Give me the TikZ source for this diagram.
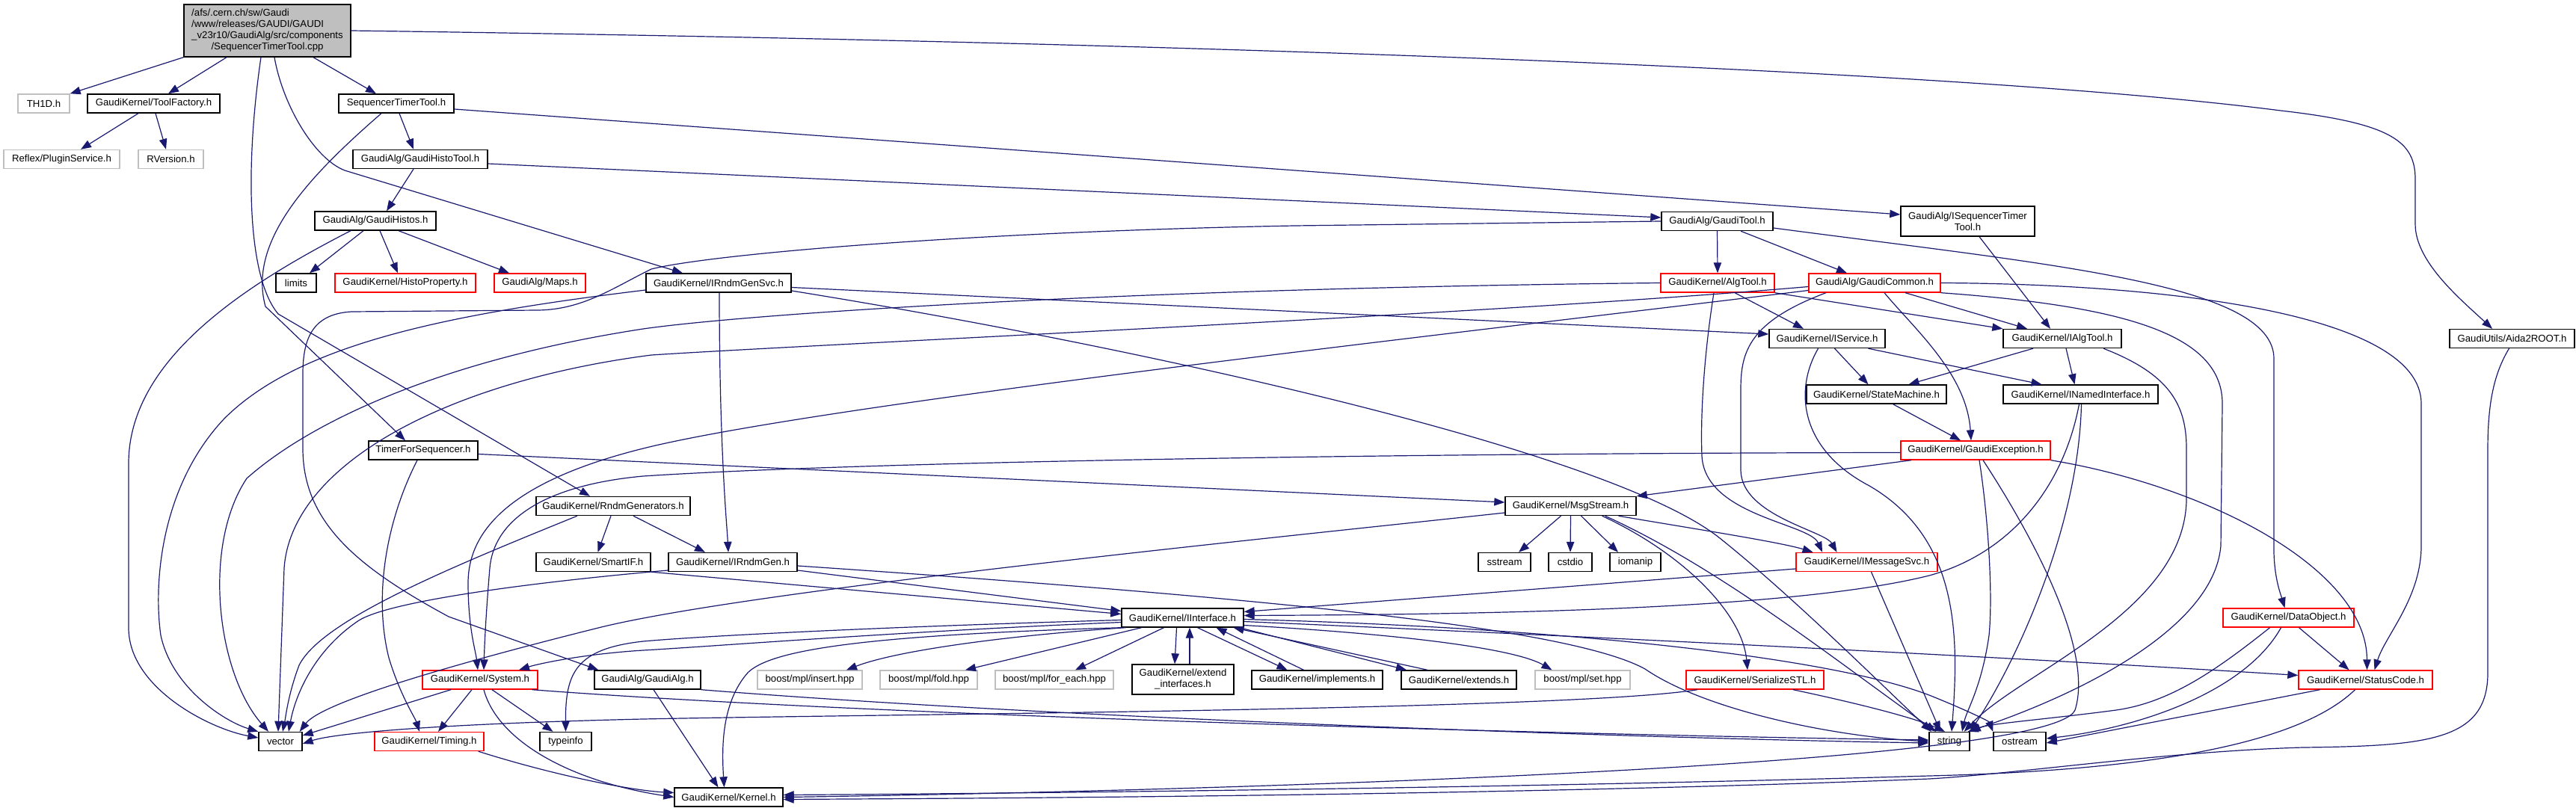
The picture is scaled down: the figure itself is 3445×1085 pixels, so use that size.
\documentclass[tikz,border=0pt]{standalone}
\usepackage{fontspec}
\setmainfont{Liberation Sans}
\usetikzlibrary{arrows.meta}
\definecolor{edgec}{RGB}{25,25,112}
\definecolor{grayb}{RGB}{191,191,191}
\definecolor{redb}{RGB}{255,0,0}
\begin{document}
\begin{tikzpicture}[x=0.5pt,y=-0.5pt,
  nb/.style={draw=black, fill=white, line width=0.7pt, inner sep=0pt, minimum height=12.5pt, align=center, font=\fontsize{6.6pt}{7.5pt}\selectfont},
  ng/.style={nb, draw=grayb},
  nr/.style={nb, draw=redb},
  e/.style={draw=edgec, line width=0.6pt, line join=round, -{Triangle[length=7pt,width=5.2pt]}, fill=none}]
\fill[white] (0,0) rectangle (3445,1085);
% nodes
\node[nb, fill=grayb, minimum width=111.5pt, minimum height=35pt] (main) at (357.5,41) {\begin{tabular}{@{}l@{}}/afs/.cern.ch/sw/Gaudi\\/www/releases/GAUDI/GAUDI\\\_v23r10/GaudiAlg/src/components\\\multicolumn{1}{@{}c@{}}{/SequencerTimerTool.cpp}\end{tabular}};
\node[ng, minimum width=34.5pt] (th1d) at (58.5,138.5) {TH1D.h};
\node[nb, minimum width=88.5pt] (toolfac) at (205.5,138.5) {GaudiKernel/ToolFactory.h};
\node[nb, minimum width=77pt] (stth) at (530,138.5) {SequencerTimerTool.h};
\node[ng, minimum width=77.5pt] (plugin) at (82.5,213) {Reflex/PluginService.h};
\node[ng, minimum width=43.5pt] (rversion) at (228.5,213) {RVersion.h};
\node[nb, minimum width=90pt] (histotool) at (562,213) {GaudiAlg/GaudiHistoTool.h};
\node[nb, minimum width=81pt] (histos) at (502,295.5) {GaudiAlg/GaudiHistos.h};
\node[nb, minimum width=74.5pt] (gtool) at (2296.5,296) {GaudiAlg/GaudiTool.h};
\node[nb, minimum width=89.5pt, minimum height=20pt] (istt) at (2631.5,296) {GaudiAlg/ISequencerTimer\\Tool.h};
\node[nb, minimum width=27pt] (limits) at (396,378.5) {limits};
\node[nr, minimum width=94pt] (histoprop) at (542,378.5) {GaudiKernel/HistoProperty.h};
\node[nr, minimum width=61pt] (maps) at (722,378.5) {GaudiAlg/Maps.h};
\node[nb, minimum width=97pt] (rgsvc) at (961,378.5) {GaudiKernel/IRndmGenSvc.h};
\node[nr, minimum width=76pt] (algtool) at (2297,378.5) {GaudiKernel/AlgTool.h};
\node[nr, minimum width=88pt] (gcommon) at (2507,378.5) {GaudiAlg/GaudiCommon.h};
\node[nb, minimum width=77.5pt] (iservice) at (2443.5,453) {GaudiKernel/IService.h};
\node[nb, minimum width=79pt] (ialgtool) at (2758,453) {GaudiKernel/IAlgTool.h};
\node[nb, minimum width=83.5pt] (aida) at (3359.5,453) {GaudiUtils/Aida2ROOT.h};
\node[nb, minimum width=93.5pt] (statem) at (2509.5,527.5) {GaudiKernel/StateMachine.h};
\node[nb, minimum width=103.5pt] (inamed) at (2782.5,527.5) {GaudiKernel/INamedInterface.h};
\node[nb, minimum width=73pt] (timerfs) at (566,602.5) {TimerForSequencer.h};
\node[nr, minimum width=100pt] (gexc) at (2642,602.5) {GaudiKernel/GaudiException.h};
\node[nb, minimum width=103pt] (rndmgens) at (820,677) {GaudiKernel/RndmGenerators.h};
\node[nb, minimum width=87.5pt] (msgstream) at (2100.5,677) {GaudiKernel/MsgStream.h};
\node[nb, minimum width=76.5pt] (smartif) at (793.5,752) {GaudiKernel/SmartIF.h};
\node[nb, minimum width=86pt] (irndmgen) at (980,752) {GaudiKernel/IRndmGen.h};
\node[nb, minimum width=35pt] (sstream) at (2012,752) {sstream};
\node[nb, minimum width=29pt] (cstdio) at (2100,752) {cstdio};
\node[nb, minimum width=34pt] (iomanip) at (2187,752) {iomanip};
\node[nr, minimum width=94.5pt] (imsgsvc) at (2496.5,752) {GaudiKernel/IMessageSvc.h};
\node[nb, minimum width=81.5pt] (iinterface) at (1581.5,826.5) {GaudiKernel/IInterface.h};
\node[nr, minimum width=87.5pt] (dataobj) at (3060.5,826.5) {GaudiKernel/DataObject.h};
\node[nr, minimum width=77pt] (system) at (642,909.5) {GaudiKernel/System.h};
\node[nb, minimum width=71pt] (gaudialg) at (866,909.5) {GaudiAlg/GaudiAlg.h};
\node[ng, minimum width=70pt] (insert) at (1083,909.5) {boost/mpl/insert.hpp};
\node[ng, minimum width=65pt] (fold) at (1242,909.5) {boost/mpl/fold.hpp};
\node[ng, minimum width=79pt] (foreach) at (1410,909.5) {boost/mpl/for\_each.hpp};
\node[nb, minimum width=68pt, minimum height=20pt] (extint) at (1582,909) {GaudiKernel/extend\\\_interfaces.h};
\node[nb, minimum width=87.5pt] (implements) at (1761.5,909.5) {GaudiKernel/implements.h};
\node[nb, minimum width=77pt] (extends) at (1951,909.5) {GaudiKernel/extends.h};
\node[ng, minimum width=63.5pt] (setmpl) at (2116.5,909.5) {boost/mpl/set.hpp};
\node[nr, minimum width=92pt] (serial) at (2347,909.5) {GaudiKernel/SerializeSTL.h};
\node[nr, minimum width=89.5pt] (statuscode) at (3163.5,909.5) {GaudiKernel/StatusCode.h};
\node[nb, minimum width=29pt] (vector) at (375,992) {vector};
\node[nr, minimum width=73pt] (timing) at (574,992) {GaudiKernel/Timing.h};
\node[nb, minimum width=34.5pt] (typeinfo) at (756.5,992) {typeinfo};
\node[nb, minimum width=27pt] (string) at (2607,992) {string};
\node[nb, minimum width=35pt] (ostream) at (2701,992) {ostream};
\node[nb, minimum width=72.5pt] (kernel) at (974.5,1066.5) {GaudiKernel/Kernel.h};
% edges
\draw[e] (main.south west) -- (th1d.north east);
\draw[e] ([xshift=-27.25pt]main.south) -- ([xshift=9.75pt]toolfac.north);
\draw[e] ([xshift=30.75pt]main.south) -- ([xshift=-13.5pt]stth.north);
\draw[e] ([xshift=4.75pt]main.south) .. controls (378,140) and (420,212) .. (461,228) -- ([xshift=-24pt]rgsvc.north);
\draw[e] ([xshift=-4.25pt]main.south) .. controls (328,220) and (330,370) .. (372,420) -- ([xshift=-15.5pt]rndmgens.north);
\draw[e] (main.east) .. controls (1500,55) and (2600,90) .. (3050,148) .. controls (3200,165) and (3230,190) .. (3230,240) -- (3230,300) .. controls (3230,350) and (3290,400) .. ([xshift=-13.25pt]aida.north);
\draw[e] ([xshift=-10.25pt]toolfac.south) -- ([xshift=12.75pt]plugin.north);
\draw[e] ([xshift=1.25pt]toolfac.south) -- ([xshift=-3.25pt]rversion.north);
\draw[e] ([xshift=2pt]stth.south) -- ([xshift=-4.5pt]histotool.north);
\draw[e] ([yshift=-3.75pt]stth.east) -- ([yshift=4.5pt]istt.west);
\draw[e] ([xshift=-10pt]stth.south) .. controls (420,230) and (330,320) .. (355,410) -- ([xshift=-12pt]timerfs.north);
\draw[e] ([xshift=-4.5pt]histotool.south) -- ([xshift=7.5pt]histos.north);
\draw[e] ([yshift=-3pt]histotool.east) -- ([yshift=2.5pt]gtool.west);
\draw[e] ([xshift=-16.5pt]histos.south) .. controls (330,380) and (172,480) .. (172,620) -- (172,840) .. controls (172,920) and (280,975) .. ([yshift=2.5pt]vector.west);
\draw[e] ([xshift=-8pt]histos.south) -- ([xshift=9pt]limits.north);
\draw[e] ([xshift=3pt]histos.south) -- ([xshift=-5pt]histoprop.north);
\draw[e] ([xshift=15.5pt]histos.south) -- ([xshift=-20.5pt]maps.north);
\draw[e] (gtool.south) -- (algtool.north);
\draw[e] ([xshift=15.75pt]gtool.south) -- ([xshift=-18.5pt]gcommon.north);
\draw[e] ([yshift=-4.5pt]gtool.east) .. controls (2750,355) and (3041,380) .. (3041,480) -- (3041,740) .. controls (3042,775) and (3050,795) .. ([xshift=-2.5pt]dataobj.north);
\draw[e] (gtool.west) -- (1731,302) .. controls (1300,310) and (950,340) .. (871,360) .. controls (820,385) and (780,414) .. (720,415) -- (470,417) .. controls (420,420) and (405,450) .. (405,500) -- (405,600) .. controls (405,700) and (480,760) .. (600,825) -- ([xshift=3pt]gaudialg.north west);
\draw[e] ([xshift=7.75pt]istt.south) -- ([xshift=-8pt]ialgtool.north);
\draw[e] ([xshift=0.5pt]rgsvc.south) .. controls (962,600) and (972,700) .. ([xshift=-3pt]irndmgen.north);
\draw[e] ([yshift=-3pt]rgsvc.east) -- ([yshift=3pt]iservice.west);
\draw[e] ([yshift=-5.25pt]rgsvc.east) .. controls (1500,460) and (2150,600) .. (2300,720) .. controls (2400,800) and (2520,920) .. ([xshift=-12pt]string.north);
\draw[e] ([yshift=-4.75pt]rgsvc.west) .. controls (600,420) and (400,460) .. (300,560) .. controls (215,650) and (205,780) .. (215,850) .. controls (230,920) and (300,965) .. (vector.north west);
\draw[e] ([xshift=11.5pt]algtool.south) -- ([xshift=-15.75pt]iservice.north);
\draw[e] (algtool.south east) -- (ialgtool.north west);
\draw[e] ([xshift=-2.5pt]algtool.south) .. controls (2278,480) and (2274,560) .. (2276,610) .. controls (2280,690) and (2420,700) .. ([xshift=-29.75pt]imsgsvc.north);
\draw[e] (algtool.west) .. controls (1500,386) and (1000,420) .. (860,440) .. controls (600,480) and (420,560) .. (330,640) .. controls (270,730) and (290,900) .. ([xshift=-8pt]vector.north);
\draw[e] ([xshift=20.5pt]gcommon.south) -- ([xshift=-23.5pt]ialgtool.north);
\draw[e] ([xshift=6.5pt]gcommon.south) .. controls (2560,440) and (2630,500) .. ([xshift=-3pt]gexc.north);
\draw[e] (gcommon.east) .. controls (2900,380) and (3238,420) .. (3238,540) -- (3238,730) .. controls (3238,800) and (3190,850) .. ([xshift=6pt]statuscode.north);
\draw[e] (gcommon.south east) .. controls (2850,410) and (2972,450) .. (2972,540) -- (2970,730) .. controls (2960,850) and (2750,940) .. ([xshift=-1.5pt]string.north east);
\draw[e] ([xshift=-32.5pt]gcommon.south) .. controls (2340,430) and (2328,470) .. (2328,520) -- (2328,630) .. controls (2330,690) and (2440,710) .. ([xshift=-20pt]imsgsvc.north);
\draw[e] ([yshift=-5pt]gcommon.west) .. controls (2000,440) and (1100,540) .. (860,600) .. controls (700,640) and (626,700) .. (626,780) .. controls (626,840) and (636,870) .. ([xshift=-1.5pt]system.north);
\draw[e] ([yshift=-2.5pt]gcommon.west) .. controls (2000,420) and (1100,460) .. (871,475) .. controls (600,510) and (390,620) .. (380,760) -- ([xshift=-1.5pt]vector.north);
\draw[e] ([xshift=-24pt]rndmgens.south) .. controls (600,760) and (430,830) .. (400,890) .. controls (385,930) and (382,960) .. ([xshift=1.5pt]vector.north);
\draw[e] ([xshift=13.5pt]rndmgens.south) -- ([xshift=-18.5pt]irndmgen.north);
\draw[e] ([xshift=-1.5pt]rndmgens.south) -- ([xshift=3pt]smartif.north);
\draw[e] (smartif.south east) -- ([yshift=2.5pt]iinterface.west);
\draw[e] ([yshift=-5.5pt]irndmgen.east) -- ([yshift=4.5pt]iinterface.west);
\draw[e] ([yshift=-2.5pt]irndmgen.east) .. controls (1700,800) and (2100,840) .. (2200,895) .. controls (2280,950) and (2450,985) .. (string.west);
\draw[e] ([yshift=-5.5pt]irndmgen.west) .. controls (700,780) and (520,805) .. (480,830) .. controls (420,870) and (395,930) .. ([xshift=5.5pt]vector.north);
\draw[e] ([yshift=-2.5pt]timerfs.east) -- ([yshift=2.5pt]msgstream.west);
\draw[e] ([xshift=-4pt]timerfs.south) .. controls (515,700) and (500,800) .. (520,880) .. controls (535,930) and (555,960) .. ([xshift=-6.5pt]timing.north);
\draw[e] ([xshift=-43pt]gexc.south) -- (msgstream.north east);
\draw[e] ([yshift=-1.5pt]gexc.west) .. controls (2000,606) and (1200,615) .. (860,637) .. controls (720,650) and (660,700) .. (655,760) .. controls (650,820) and (648,860) .. ([xshift=2.5pt]system.north);
\draw[e] ([xshift=2.5pt]gexc.south) .. controls (2660,700) and (2665,800) .. (2660,850) .. controls (2650,920) and (2630,950) .. ([xshift=8.5pt]string.north);
\draw[e] ([xshift=5pt]gexc.south) .. controls (2720,720) and (2800,870) .. (2775,950) .. controls (2740,1030) and (1500,1060) .. (kernel.east);
\draw[e] (gexc.south east) .. controls (2950,650) and (3165,760) .. ([xshift=1pt]statuscode.north);
\draw[e] ([xshift=11pt]statem.south) -- ([xshift=-10pt]gexc.north);
\draw[e] ([xshift=5pt]iservice.south) -- ([xshift=-5.5pt]statem.north);
\draw[e] ([xshift=27.5pt]iservice.south) -- ([xshift=-26pt]inamed.north);
\draw[e] ([xshift=-6pt]iservice.south) .. controls (2400,520) and (2405,600) .. (2500,650) .. controls (2620,720) and (2620,850) .. ([xshift=1.5pt]string.north);
\draw[e] ([xshift=-19.5pt]ialgtool.south) -- ([xshift=21.5pt]statem.north);
\draw[e] ([xshift=2.5pt]ialgtool.south) -- ([xshift=-4pt]inamed.north);
\draw[e] ([xshift=27.5pt]ialgtool.south) .. controls (2900,500) and (2924,540) .. (2924,600) -- (2924,670) .. controls (2920,820) and (2700,900) .. ([xshift=-4pt]string.north east);
\draw[e] ([xshift=-1pt]inamed.south) .. controls (2760,650) and (2690,740) .. (2580,770) .. controls (2400,815) and (2000,822) .. ([yshift=1.5pt]iinterface.east);
\draw[e] ([xshift=0.5pt]inamed.south) .. controls (2780,700) and (2700,880) .. (string.north east);
\draw[e] ([xshift=-6.5pt]msgstream.south) -- ([xshift=9.5pt]sstream.north);
\draw[e] (msgstream.south) -- (cstdio.north);
\draw[e] ([xshift=7pt]msgstream.south) -- ([xshift=-11.5pt]iomanip.north);
\draw[e] ([xshift=32pt]msgstream.south) .. controls (2250,705) and (2380,725) .. ([xshift=-36pt]imsgsvc.north);
\draw[e] ([xshift=21pt]msgstream.south) .. controls (2250,740) and (2330,820) .. ([xshift=-5pt]serial.north);
\draw[e] ([xshift=23pt]msgstream.south) .. controls (2300,760) and (2450,880) .. ([xshift=-9pt]string.north);
\draw[e] ([yshift=-4.5pt]msgstream.west) .. controls (1700,720) and (1000,790) .. (800,840) .. controls (600,890) and (430,940) .. ([xshift=-2pt]vector.north east);
\draw[e] ([yshift=-4.5pt]imsgsvc.west) -- ([yshift=4pt]iinterface.east);
\draw[e] ([xshift=3pt]imsgsvc.south) -- ([xshift=-6pt]string.north);
\draw[e] ([yshift=-3pt]iinterface.west) .. controls (1200,845) and (950,865) .. (860,870) .. controls (780,875) and (720,888) .. ([xshift=26pt]system.north);
\draw[e] ([yshift=-1.5pt]iinterface.west) .. controls (1200,838) and (950,850) .. (860,858) .. controls (770,868) and (756,900) .. (typeinfo.north);
\draw[e] (iinterface.south west) .. controls (1150,850) and (1030,870) .. (1000,900) .. controls (965,940) and (965,1000) .. ([xshift=-3pt]kernel.north);
\draw[e] ([xshift=-38pt]iinterface.south) .. controls (1350,850) and (1200,870) .. ([xshift=24.5pt]insert.north);
\draw[e] ([xshift=-27.5pt]iinterface.south) -- ([xshift=24.5pt]fold.north);
\draw[e] ([xshift=-12.5pt]iinterface.south) -- ([xshift=14pt]foreach.north);
\draw[e] ([xshift=-4pt]iinterface.south) -- ([xshift=-5.5pt]extint.north);
\draw[e] ([xshift=4.5pt]extint.north) -- ([xshift=4.75pt]iinterface.south);
\draw[e] ([xshift=10pt]iinterface.south) -- ([xshift=-20pt]implements.north);
\draw[e] ([xshift=-9pt]implements.north) -- ([xshift=22.5pt]iinterface.south);
\draw[e] ([xshift=38pt]iinterface.south) -- ([xshift=-35pt]extends.north);
\draw[e] ([xshift=-21pt]extends.north) -- ([xshift=34pt]iinterface.south);
\draw[e] ([yshift=-5pt]iinterface.east) .. controls (1900,850) and (2030,870) .. ([xshift=-20.5pt]setmpl.north);
\draw[e] ([yshift=-2.5pt]iinterface.east) .. controls (2200,855) and (2700,880) .. ([yshift=3pt]statuscode.west);
\draw[e] ([yshift=-1pt]iinterface.east) .. controls (2100,840) and (2450,880) .. (2580,930) .. controls (2630,950) and (2660,965) .. (ostream.north west);
\draw[e] ([xshift=-19.5pt]system.south) -- ([yshift=4pt]vector.east);
\draw[e] ([xshift=-5.5pt]system.south) -- ([xshift=6pt]timing.north);
\draw[e] ([xshift=8pt]system.south) -- ([xshift=-8.5pt]typeinfo.north);
\draw[e] ([xshift=2.5pt]system.south) .. controls (665,990) and (760,1045) .. (kernel.west);
\draw[e] ([xshift=-4pt]system.south east) .. controls (1200,960) and (2200,985) .. ([yshift=1pt]string.west);
\draw[e] ([xshift=4pt]gaudialg.south) -- ([xshift=-7pt]kernel.north);
\draw[e] (gaudialg.south east) .. controls (1400,960) and (2200,988) .. ([yshift=-1pt]string.west);
\draw[e] ([xshift=-4pt]timing.south east) .. controls (750,1040) and (850,1058) .. ([yshift=3pt]kernel.west);
\draw[e] ([xshift=-38.5pt]serial.south) .. controls (2100,950) and (1200,955) .. (860,962) .. controls (600,968) and (450,980) .. ([yshift=-1.5pt]vector.east);
\draw[e] ([xshift=25.5pt]serial.south) .. controls (2480,940) and (2560,960) .. ([xshift=-3pt]string.north);
\draw[e] ([xshift=7pt]dataobj.south) -- ([xshift=-11pt]statuscode.north);
\draw[e] ([xshift=-12.5pt]dataobj.south) .. controls (2960,900) and (2900,940) .. (2830,950) .. controls (2740,962) and (2660,968) .. (string.north east);
\draw[e] ([xshift=-5pt]dataobj.south) .. controls (3000,930) and (2850,975) .. ([yshift=2pt]ostream.east);
\draw[e] ([xshift=-30.5pt]statuscode.south) -- ([yshift=-1pt]ostream.east);
\draw[e] ([xshift=-7pt]statuscode.south) .. controls (3080,990) and (2900,1030) .. (2580,1038) .. controls (2000,1055) and (1300,1062) .. ([yshift=1.5pt]kernel.east);
\draw[e] ([xshift=-2pt]aida.south) .. controls (3335,500) and (3327,540) .. (3327,600) -- (3327,900) .. controls (3327,990) and (3250,998) .. (3080,1000) .. controls (2900,1005) and (2700,1035) .. (2580,1042) .. controls (2000,1065) and (1300,1068) .. ([yshift=-1.5pt]kernel.east);
\end{tikzpicture}
\end{document}
